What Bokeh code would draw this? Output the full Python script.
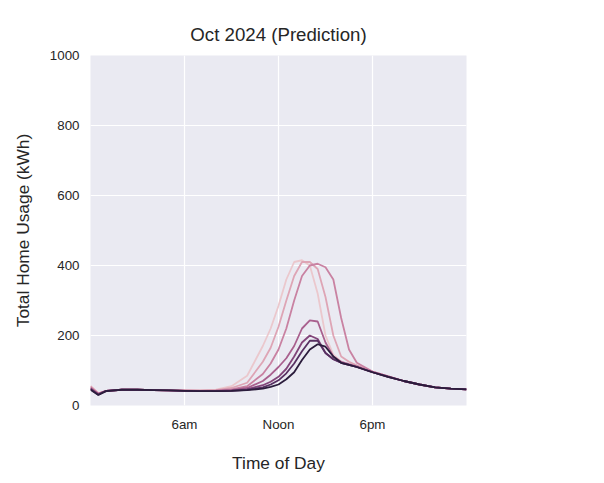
from bokeh.plotting import figure
from bokeh.models import Range1d, FixedTicker, Legend, LegendItem
from bokeh.embed import file_html
from bokeh.resources import INLINE

# hours of the day
hours = [0, 0.5, 1, 2, 3, 4, 5, 6, 7, 8, 9, 10, 11, 11.5, 12, 12.5, 13, 13.5, 14, 14.5,
         15, 15.5, 16, 16.5, 17, 18, 19, 20, 21, 22, 23, 24]

usage = {
    "0": [55, 35, 42, 45, 45, 44, 43, 43, 43, 45, 55, 85, 170, 220, 285, 360, 410, 415, 400, 320,
          200, 145, 125, 118, 110, 95, 82, 70, 60, 52, 48, 46],
    "1": [55, 35, 42, 45, 45, 44, 43, 43, 43, 44, 50, 65, 125, 165, 225, 300, 370, 410, 410, 390,
          310, 200, 140, 125, 115, 97, 83, 70, 60, 52, 48, 46],
    "2": [52, 34, 42, 45, 45, 44, 43, 43, 42, 43, 46, 55, 90, 120, 160, 220, 300, 370, 400, 405,
          395, 360, 250, 160, 122, 97, 83, 70, 60, 52, 48, 46],
    "3": [50, 33, 42, 45, 45, 44, 43, 42, 42, 42, 44, 50, 70, 88, 110, 135, 170, 220, 243, 240,
          180, 140, 125, 118, 112, 96, 83, 70, 60, 52, 48, 46],
    "4": [48, 32, 42, 45, 45, 44, 43, 42, 41, 41, 43, 47, 58, 68, 82, 105, 140, 180, 200, 190,
          150, 132, 122, 116, 110, 95, 82, 70, 60, 52, 48, 46],
    "5": [47, 31, 42, 45, 45, 44, 43, 42, 41, 41, 42, 45, 52, 60, 72, 92, 120, 155, 185, 185,
          150, 132, 122, 116, 110, 95, 82, 70, 60, 52, 48, 46],
    "6": [45, 30, 41, 45, 45, 44, 43, 42, 41, 41, 42, 44, 48, 53, 60, 75, 95, 130, 160, 175,
          168, 140, 122, 116, 110, 95, 82, 70, 60, 52, 48, 46],
}
colors = ["#ebc8cd", "#dea5b5", "#c982a2", "#a9608e", "#82457a", "#573062", "#2b1c3c"]

font = "Liberation Sans"
p = figure(frame_width=376, frame_height=350,
           output_backend="svg", toolbar_location=None,
           x_range=Range1d(0, 24), y_range=Range1d(0, 1000),
           title="Oct 2024 (Prediction)",
           x_axis_label="Time of Day", y_axis_label="Total Home Usage (kWh)",
           min_border_left=90, min_border_top=55, min_border_bottom=62,
           min_border_right=0)
p.background_fill_color = "#eaeaf2"
p.outline_line_color = None
p.border_fill_color = "white"

p.title.align = "center"
p.title.text_font = font
p.title.text_font_size = "14pt"
p.title.text_font_style = "normal"
p.title.text_color = "#262626"
p.title.standoff = 22

items = []
for (name, vals), c in zip(usage.items(), colors):
    r = p.line(hours, vals, line_color=c, line_width=1.8)
    items.append(LegendItem(label=name, renderers=[r]))

p.xaxis.ticker = FixedTicker(ticks=[6, 12, 18])
p.xaxis.major_label_overrides = {6: "6am", 12: "Noon", 18: "6pm"}
p.yaxis.ticker = FixedTicker(ticks=[0, 200, 400, 600, 800, 1000])
for ax in (p.xaxis, p.yaxis):
    ax.axis_line_color = None
    ax.major_tick_line_color = None
    ax.minor_tick_line_color = None
    ax.major_label_text_font = font
    ax.major_label_text_font_size = "10pt"
    ax.major_label_text_color = "#262626"
    ax.axis_label_text_font = font
    ax.axis_label_text_font_size = "13pt"
    ax.axis_label_text_font_style = "normal"
    ax.axis_label_text_color = "#262626"
p.xaxis.axis_label_standoff = 18
p.yaxis.axis_label_standoff = 14
p.grid.grid_line_color = "white"
p.grid.grid_line_width = 1.2

legend = Legend(items=items, title="day_of_week", location="center",
                border_line_color=None, background_fill_alpha=0,
                label_text_font=font, label_text_font_size="10pt",
                title_text_font=font, title_text_font_size="11pt",
                label_text_color="#262626", title_text_color="#262626",
                glyph_width=28, spacing=2, margin=22)
p.add_layout(legend, "right")

open("out.html", "w").write(file_html(p, INLINE))
